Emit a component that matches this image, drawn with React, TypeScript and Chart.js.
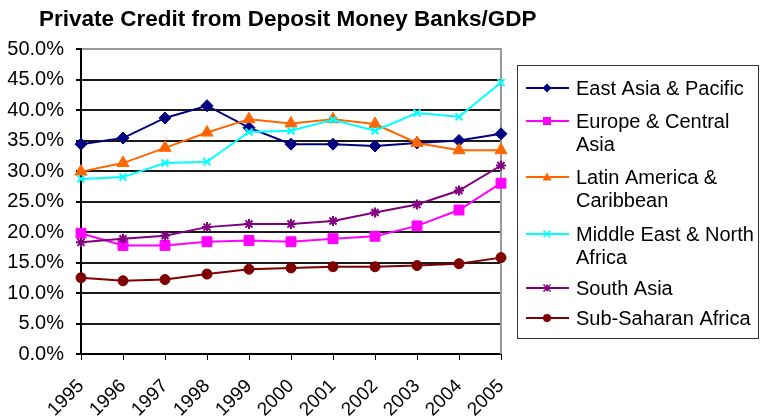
import React, { useEffect, useRef } from 'react';
import { Chart, registerables } from 'chart.js';

Chart.register(...registerables);

const chartTitle = 'Private Credit from Deposit Money Banks/GDP';
const years = ['1995', '1996', '1997', '1998', '1999', '2000', '2001', '2002', '2003', '2004', '2005'];

const seriesNames = [
  'East Asia & Pacific',
  'Europe & Central Asia',
  'Latin America & Caribbean',
  'Middle East & North Africa',
  'South Asia',
  'Sub-Saharan Africa',
];
const legendLines = [
  ['East Asia & Pacific'],
  ['Europe & Central', 'Asia'],
  ['Latin America &', 'Caribbean'],
  ['Middle East & North', 'Africa'],
  ['South Asia'],
  ['Sub-Saharan Africa'],
];

const eastAsiaPacific = [34.4, 35.4, 38.7, 40.7, 37.1, 34.4, 34.4, 34.1, 34.6, 35.0, 36.1];
const europeCentralAsia = [19.8, 17.8, 17.8, 18.4, 18.6, 18.4, 18.9, 19.3, 21.0, 23.6, 28.0];
const latinAmericaCaribbean = [29.9, 31.3, 33.8, 36.3, 38.5, 37.8, 38.5, 37.7, 34.6, 33.4, 33.4];
const middleEastNorthAfrica = [28.7, 29.0, 31.3, 31.5, 36.4, 36.6, 38.4, 36.6, 39.5, 38.9, 44.5];
const southAsia = [18.3, 18.9, 19.4, 20.8, 21.3, 21.3, 21.8, 23.2, 24.5, 26.8, 30.9];
const subSaharanAfrica = [12.5, 12.0, 12.2, 13.1, 13.9, 14.1, 14.3, 14.3, 14.5, 14.8, 15.8];

const seriesValues = [
  eastAsiaPacific,
  europeCentralAsia,
  latinAmericaCaribbean,
  middleEastNorthAfrica,
  southAsia,
  subSaharanAfrica,
];

const yMin = 0;
const yMax = 50;
const yStep = 5;

const colors = ['#000080', '#FF00FF', '#FF6600', '#00FFFF', '#800080', '#800000'];
const pointStyles = ['rectRot', 'rect', 'triangle', 'crossRot', 'star', 'circle'];
const pointRadii = [6, 7, 7, 5, 5, 5];

const FONT = "Arial, 'Liberation Sans', sans-serif";

function drawMarker(ctx: CanvasRenderingContext2D, style: string, x: number, y: number, r: number, color: string) {
  ctx.save();
  ctx.fillStyle = color;
  ctx.strokeStyle = color;
  ctx.lineWidth = 1.5;
  ctx.beginPath();
  switch (style) {
    case 'rectRot':
      ctx.moveTo(x, y - r);
      ctx.lineTo(x + r, y);
      ctx.lineTo(x, y + r);
      ctx.lineTo(x - r, y);
      ctx.closePath();
      ctx.fill();
      break;
    case 'rect':
      ctx.rect(x - r, y - r, 2 * r, 2 * r);
      ctx.fill();
      break;
    case 'triangle':
      ctx.moveTo(x, y - r);
      ctx.lineTo(x + r, y + r * 0.8);
      ctx.lineTo(x - r, y + r * 0.8);
      ctx.closePath();
      ctx.fill();
      break;
    case 'crossRot':
      ctx.moveTo(x - r, y - r);
      ctx.lineTo(x + r, y + r);
      ctx.moveTo(x + r, y - r);
      ctx.lineTo(x - r, y + r);
      ctx.stroke();
      break;
    case 'star':
      ctx.moveTo(x - r, y - r);
      ctx.lineTo(x + r, y + r);
      ctx.moveTo(x + r, y - r);
      ctx.lineTo(x - r, y + r);
      ctx.moveTo(x, y - r);
      ctx.lineTo(x, y + r);
      ctx.stroke();
      break;
    default:
      ctx.arc(x, y, r, 0, Math.PI * 2);
      ctx.fill();
  }
  ctx.restore();
}

const decorPlugin = {
  id: 'decor',
  beforeDatasetsDraw(chart: any) {
    const ctx = chart.ctx as CanvasRenderingContext2D;
    const { right, top, bottom } = chart.chartArea;
    ctx.save();
    ctx.strokeStyle = '#999999';
    ctx.lineWidth = 2;
    ctx.beginPath();
    ctx.moveTo(right, top - 1);
    ctx.lineTo(right, bottom);
    ctx.stroke();
    ctx.restore();
  },
  afterDraw(chart: any) {
    const ctx = chart.ctx as CanvasRenderingContext2D;
    ctx.save();
    // title
    ctx.font = `bold 22.5px ${FONT}`;
    ctx.fillStyle = '#000';
    ctx.textBaseline = 'alphabetic';
    ctx.textAlign = 'left';
    ctx.fillText(chartTitle, 39, 26);

    // legend box
    const bx = 517.5, by = 65.5, bw = 241, bh = 273;
    ctx.strokeStyle = '#333';
    ctx.lineWidth = 1;
    ctx.fillStyle = '#fff';
    ctx.fillRect(bx, by, bw, bh);
    ctx.strokeRect(bx, by, bw, bh);

    const rowY = [88, 121, 177, 234, 288, 318];
    const lineGap = 23.5;
    const markerR = [4.5, 4, 4.5, 3.5, 3.5, 4];
    ctx.font = `20px ${FONT}`;
    ctx.textBaseline = 'middle';
    legendLines.forEach((lines, i) => {
      const y = rowY[i];
      ctx.strokeStyle = colors[i];
      ctx.lineWidth = 2;
      ctx.beginPath();
      ctx.moveTo(526, y);
      ctx.lineTo(569, y);
      ctx.stroke();
      drawMarker(ctx, pointStyles[i], 547, y, markerR[i], colors[i]);
      ctx.fillStyle = '#000';
      lines.forEach((t, j) => {
        ctx.fillText(t, 576, y + j * lineGap + 1);
      });
    });
    ctx.restore();
  },
};

export default function App() {
  const canvasRef = useRef<HTMLCanvasElement | null>(null);

  useEffect(() => {
    const canvas = canvasRef.current;
    if (!canvas) return;
    const chart = new Chart(canvas, {
      type: 'line',
      data: {
        labels: years,
        datasets: seriesValues.map((vals, i) => ({
          label: seriesNames[i],
          data: vals,
          borderColor: colors[i],
          backgroundColor: colors[i],
          borderWidth: 2,
          pointStyle: pointStyles[i] as any,
          pointRadius: pointRadii[i],
          pointBorderWidth: pointStyles[i] === 'crossRot' || pointStyles[i] === 'star' ? 2 : 1,
          pointBackgroundColor: colors[i],
          pointBorderColor: colors[i],
          tension: 0,
          fill: false,
          order: seriesValues.length - i,
        })),
      },
      options: {
        responsive: false,
        animation: false,
        events: [],
        layout: { padding: { left: 0, top: 49, right: 259, bottom: 0 } },
        plugins: {
          legend: { display: false },
          title: { display: false },
          tooltip: { enabled: false },
        },
        scales: {
          x: {
            type: 'category',
            offset: false,
            border: { display: true, color: '#000', width: 2 },
            grid: {
              drawOnChartArea: false,
              drawTicks: true,
              tickLength: 6,
              color: '#000',
              lineWidth: 1,
            },
            ticks: {
              autoSkip: false,
              maxRotation: 45,
              minRotation: 45,
              color: '#000',
              font: { family: FONT, size: 19 },
              padding: 15,
            },
            afterFit(scale: any) {
              scale.height = 63;
            },
          },
          y: {
            min: yMin,
            max: yMax,
            border: { display: true, color: '#000', width: 2 },
            grid: {
              drawTicks: true,
              tickLength: 5,
              lineWidth: 2,
              color: (c: any) => (c.tick && c.tick.value === yMax ? '#999999' : '#1a1a1a'),
              tickColor: '#000',
            },
            ticks: {
              stepSize: yStep,
              color: '#000',
              font: { family: FONT, size: 20 },
              padding: 12,
              callback: (v: any) => Number(v).toFixed(1) + '%',
            },
            afterFit(scale: any) {
              scale.width = 81;
            },
          },
        },
      },
      plugins: [decorPlugin],
    });
    return () => chart.destroy();
  }, []);

  return (
    <div style={{ position: 'fixed', left: 0, top: 0, width: 760, height: 417, background: '#fff' }}>
      <canvas ref={canvasRef} width={760} height={417} style={{ display: 'block' }} />
    </div>
  );
}
